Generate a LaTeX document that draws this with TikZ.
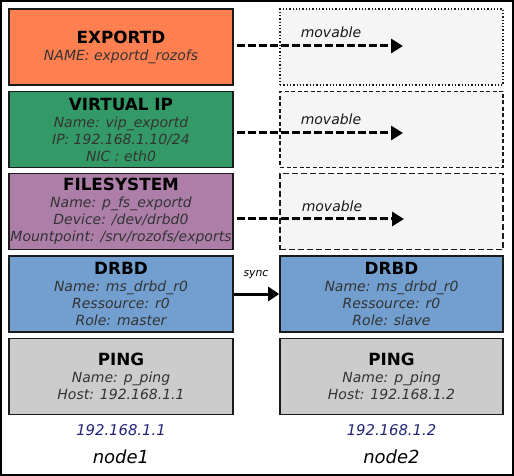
\documentclass[tikz,border=0pt]{standalone}
\usepackage{fontspec}
\setmainfont{DejaVu Sans}
\usetikzlibrary{arrows.meta}
\definecolor{exportc}{HTML}{FF7F50}
\definecolor{vipc}{HTML}{339966}
\definecolor{fsc}{HTML}{AD7FA8}
\definecolor{drbdc}{HTML}{729FCF}
\definecolor{pingc}{HTML}{CCCCCC}
\definecolor{ghostc}{HTML}{F5F5F5}
\definecolor{detailc}{HTML}{333333}
\definecolor{ipc}{HTML}{222277}
\definecolor{edgec}{HTML}{1A1A1A}
\newcommand{\ttl}[1]{{\fontsize{16.8bp}{18bp}\selectfont\upshape\bfseries\color{black}#1}}
\tikzset{
  box/.style={draw=edgec, line width=1.6bp, minimum width=224bp, minimum height=76bp,
    inner sep=0pt, align=center, text=detailc,
    font=\fontsize{14bp}{17bp}\selectfont\itshape},
  ghost/.style={draw=edgec, line width=1.2bp, fill=ghostc, minimum width=223bp, minimum height=76bp, inner sep=0pt},
  movarrow/.style={line width=3bp, dash pattern=on 8bp off 3bp, -{Triangle[length=12bp,width=14bp]}},
  syncarrow/.style={line width=3bp, -{Triangle[length=11bp,width=14bp]}},
  lab/.style={font=\fontsize{14bp}{17bp}\selectfont\itshape, text=black!90},
  iplab/.style={font=\fontsize{14.8bp}{17bp}\selectfont\itshape, text=ipc},
  hostlab/.style={font=\fontsize{18bp}{20bp}\selectfont\itshape, text=black},
}
\begin{document}
\begin{tikzpicture}[x=1bp,y=-1bp]
\useasboundingbox (0,0) rectangle (514,476);
\fill[white] (0,0) rectangle (514,476);
\draw[line width=2bp] (1,1) rectangle (513,475);
% left column
\node[box, fill=exportc] (exp) at (121,47) {\ttl{EXPORTD}\\NAME: exportd\_rozofs};
\node[box, fill=vipc] (vip) at (121,129.5) {\ttl{VIRTUAL IP}\\Name: vip\_exportd\\IP: 192.168.1.10/24\\NIC : eth0};
\node[box, fill=fsc] (fs) at (121,211.5) {\ttl{FILESYSTEM}\\Name: p\_fs\_exportd\\Device: /dev/drbd0\\Mountpoint: /srv/rozofs/exports};
\node[box, fill=drbdc] (drbd1) at (121,294) {\ttl{DRBD}\\Name: ms\_drbd\_r0\\Ressource: r0\\Role: master};
\node[box, fill=pingc] (ping1) at (121,376.5) {\ttl{PING}\\Name: p\_ping\\Host: 192.168.1.1};
% right column
\node[ghost, line width=1.1bp, dash pattern=on 1.3bp off 2bp] (g1) at (391.5,47) {};
\node[ghost, dash pattern=on 4bp off 2.5bp] (g2) at (391.5,129.5) {};
\node[ghost, dash pattern=on 6bp off 3bp] (g3) at (391.5,211.5) {};
\node[box, fill=drbdc, minimum width=223bp] (drbd2) at (391.5,294) {\ttl{DRBD}\\Name: ms\_drbd\_r0\\Ressource: r0\\Role: slave};
\node[box, fill=pingc, minimum width=223bp] (ping2) at (391.5,376.5) {\ttl{PING}\\Name: p\_ping\\Host: 192.168.1.2};
% movable arrows
\coordinate (m1) at (403,46);
\coordinate (m2) at (403,133);
\coordinate (m3) at (404,219);
\draw[movarrow] (exp.east |- m1) ++(3,0) -- (m1);
\draw[movarrow] (vip.east |- m2) ++(3,0) -- (m2);
\draw[movarrow] (fs.east |- m3) ++(3,0) -- (m3);
\node[lab] (mv1) at (331,32) {movable};
\node[lab] (mv2) at (331,119) {movable};
\node[lab] (mv3) at (332,206) {movable};
% sync
\draw[syncarrow] (drbd1.east) -- (drbd2.west);
\node[font=\fontsize{10.8bp}{12bp}\selectfont\itshape] (sync) at (256,275) {sync};
% labels
\node[iplab] (ip1) at (121,430) {192.168.1.1};
\node[iplab] (ip2) at (391.5,430) {192.168.1.2};
\node[hostlab] (n1) at (121,456.5) {node1};
\node[hostlab] (n2) at (391.5,456.5) {node2};
\end{tikzpicture}
\end{document}
